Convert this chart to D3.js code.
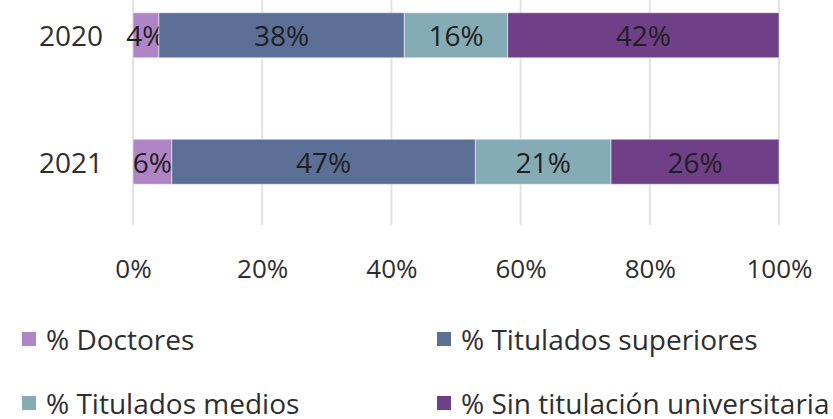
<!DOCTYPE html>
<html><head><meta charset="utf-8">
<script src="https://cdn.jsdelivr.net/npm/d3@7"></script>
<style>body{margin:0;background:#fff}svg{display:block}text{font-family:"Open Sans",sans-serif}</style>
</head><body><svg id="c" width="833" height="419"></svg>
<script>
const years = ["2020", "2021"];
const seriesNames = ["% Doctores", "% Titulados superiores", "% Titulados medios", "% Sin titulación universitaria"];
const doctores = [4, 6];
const superiores = [38, 47];
const medios = [16, 21];
const sinTitulacion = [42, 26];
const xTicks = [0, 20, 40, 60, 80, 100];
const colors = ["#b085c5", "#5b6f97", "#85abb4", "#6f3f87"];

const svg = d3.select("#c");
const seriesVals = [doctores, superiores, medios, sinTitulacion];
const rows = years.map((y, i) => {
  const o = {year: y};
  seriesNames.forEach((s, k) => o[s] = seriesVals[k][i]);
  return o;
});
const stack = d3.stack().keys(seriesNames)(rows);

const x = d3.scaleLinear().domain([0, 100]).range([133, 779]);
const y = d3.scaleBand().domain(years).range([-28, 225]).paddingInner(0.644).paddingOuter(0.322);

// gridlines
svg.append("g").selectAll("line").data(xTicks).join("line")
  .attr("x1", d => x(d)).attr("x2", d => x(d))
  .attr("y1", 0).attr("y2", 225)
  .attr("stroke", "#e3e3e3").attr("stroke-width", 2);

// bars
const g = svg.append("g");
stack.forEach((s, k) => {
  g.append("g").selectAll("rect").data(s).join("rect")
    .attr("x", d => x(d[0])).attr("width", d => x(d[1]) - x(d[0]))
    .attr("y", d => y(d.data.year)).attr("height", y.bandwidth())
    .attr("fill", colors[k]).attr("stroke", "#ffffff").attr("stroke-opacity", 0.5).attr("stroke-width", 1);
  g.append("g").selectAll("text").data(s).join("text")
    .attr("x", d => (x(d[0]) + x(d[1])) / 2)
    .attr("y", d => y(d.data.year) + y.bandwidth() / 2)
    .attr("text-anchor", "middle").attr("dominant-baseline", "central")
    .attr("font-size", 28).attr("fill", "#1f1f1f")
    .text(d => (d[1] - d[0]) + "%");
});

// y labels
svg.append("g").selectAll("text").data(years).join("text")
  .attr("x", 103).attr("y", d => y(d) + y.bandwidth() / 2)
  .attr("text-anchor", "end").attr("dominant-baseline", "central")
  .attr("font-size", 28).attr("fill", "#2e2e2e").text(d => d);

// x axis labels
const xAxis = d3.axisBottom(x).tickValues(xTicks).tickFormat(d => d + "%").tickSize(0).tickPadding(0);
const ax = svg.append("g").attr("transform", "translate(0,268)").call(xAxis);
ax.select(".domain").remove();
ax.selectAll("text").attr("font-size", 26).attr("fill", "#2e2e2e")
  .attr("font-family", "Open Sans, sans-serif").attr("dy", null).attr("dominant-baseline", "central");

// legend
const legPos = [[22, 339], [437, 339], [22, 403], [437, 403]];
const leg = svg.append("g").selectAll("g").data(seriesNames).join("g")
  .attr("transform", (d, i) => `translate(${legPos[i][0]},${legPos[i][1]})`);
leg.append("rect").attr("x", 0).attr("y", -7).attr("width", 14).attr("height", 14)
  .attr("fill", (d, i) => colors[i]);
leg.append("text").attr("x", 24).attr("y", 0).attr("dominant-baseline", "central")
  .attr("font-size", 28).attr("fill", "#2e2e2e").text(d => d);
</script></body></html>
